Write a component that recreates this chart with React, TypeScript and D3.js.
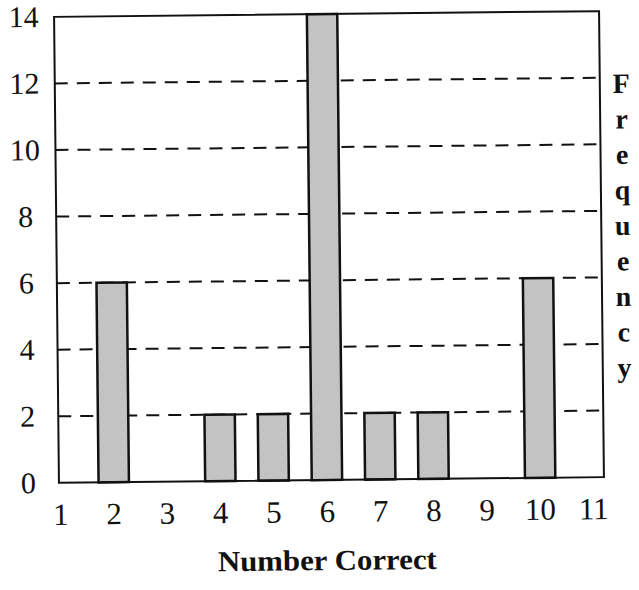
import React, { useRef, useEffect } from "react";
import * as d3 from "d3";

// values
const scores = [1, 2, 3, 4, 5, 6, 7, 8, 9, 10, 11];
const frequency = [0, 6, 0, 2, 2, 14, 2, 2, 0, 6, 0];
const yTicks = [0, 2, 4, 6, 8, 10, 12, 14];
const gridValues = [2, 4, 6, 8, 10, 12];
const yLabel = "Frequency";
const xLabel = "Number Correct";

const CHART_CONFIG = {
  width: 639,
  height: 590,
  frame: { left: 56.5, right: 601.5, top: 14, bottom: 480 },
  xRange: [58, 591],
  tilt: -0.6, // the page was scanned slightly askew
  tiltCenter: [329, 247],
  barWidth: 0.57, // in score units
  font: "'Liberation Serif', 'Times New Roman', serif",
  tickFontSize: 30,
  xTickFontSize: 31,
  titleFontSize: 29,
  barFill: "#c3c3c3",
  ink: "#111",
};

const App = () => {
  const ref = useRef<SVGSVGElement | null>(null);

  useEffect(() => {
    const svgEl = ref.current;
    if (!svgEl) return;
    const svg = d3.select(svgEl);
    svg.selectAll("*").remove();

    const { frame, font, ink } = CHART_CONFIG;

    const x = d3.scaleLinear().domain([1, 11]).range(CHART_CONFIG.xRange);
    const y = d3.scaleLinear().domain([0, 14]).range([frame.bottom, frame.top]);

    svg.append("rect").attr("width", CHART_CONFIG.width).attr("height", CHART_CONFIG.height).attr("fill", "#fff");

    const [cx, cy] = CHART_CONFIG.tiltCenter;
    const g = svg.append("g").attr("transform", `rotate(${CHART_CONFIG.tilt},${cx},${cy})`);

    // dashed grid
    g.append("g")
      .selectAll("line")
      .data(gridValues)
      .join("line")
      .attr("x1", frame.left)
      .attr("x2", frame.right)
      .attr("y1", (d) => y(d))
      .attr("y2", (d) => y(d))
      .attr("stroke", ink)
      .attr("stroke-width", 2)
      .attr("stroke-dasharray", "13,9");

    // bars
    const halfW = (x(1 + CHART_CONFIG.barWidth) - x(1)) / 2;
    g.append("g")
      .selectAll("rect")
      .data(scores.map((s, i) => ({ s, f: frequency[i] })).filter((d) => d.f > 0))
      .join("rect")
      .attr("x", (d) => x(d.s) - halfW)
      .attr("y", (d) => y(d.f))
      .attr("width", halfW * 2)
      .attr("height", (d) => y(0) - y(d.f))
      .attr("fill", CHART_CONFIG.barFill)
      .attr("stroke", ink)
      .attr("stroke-width", 2.5);

    // frame
    g.append("rect")
      .attr("x", frame.left)
      .attr("y", frame.top)
      .attr("width", frame.right - frame.left)
      .attr("height", frame.bottom - frame.top)
      .attr("fill", "none")
      .attr("stroke", ink)
      .attr("stroke-width", 2);

    // y tick labels
    g.append("g")
      .selectAll("text")
      .data(yTicks)
      .join("text")
      .attr("x", 26)
      .attr("y", (d) => y(d) + 10)
      .attr("text-anchor", "middle")
      .attr("font-family", font)
      .attr("font-size", CHART_CONFIG.tickFontSize)
      .attr("fill", ink)
      .text((d) => d);

    // x tick labels
    g.append("g")
      .selectAll("text")
      .data(scores)
      .join("text")
      .attr("x", (d) => x(d))
      .attr("y", 522)
      .attr("text-anchor", "middle")
      .attr("font-family", font)
      .attr("font-size", CHART_CONFIG.xTickFontSize)
      .attr("fill", ink)
      .text((d) => d);

    // x title
    g.append("text")
      .attr("x", 324)
      .attr("y", 570)
      .attr("text-anchor", "middle")
      .attr("font-family", font)
      .attr("font-weight", "bold")
      .attr("font-size", CHART_CONFIG.titleFontSize)
      .attr("textLength", 219)
      .attr("lengthAdjust", "spacingAndGlyphs")
      .attr("fill", ink)
      .text(xLabel);

    // y title, one letter per line on the right
    g.append("text")
      .attr("font-family", font)
      .attr("font-weight", "bold")
      .attr("font-size", 28)
      .attr("fill", ink)
      .attr("text-anchor", "middle")
      .selectAll("tspan")
      .data(yLabel.split(""))
      .join("tspan")
      .attr("x", 623)
      .attr("y", (_, i) => 96 + i * 35.5)
      .text((d) => d);
  }, []);

  return (
    <svg
      ref={ref}
      width={CHART_CONFIG.width}
      height={CHART_CONFIG.height}
      style={{ position: "absolute", left: 0, top: 0 }}
    />
  );
};

export default App;
